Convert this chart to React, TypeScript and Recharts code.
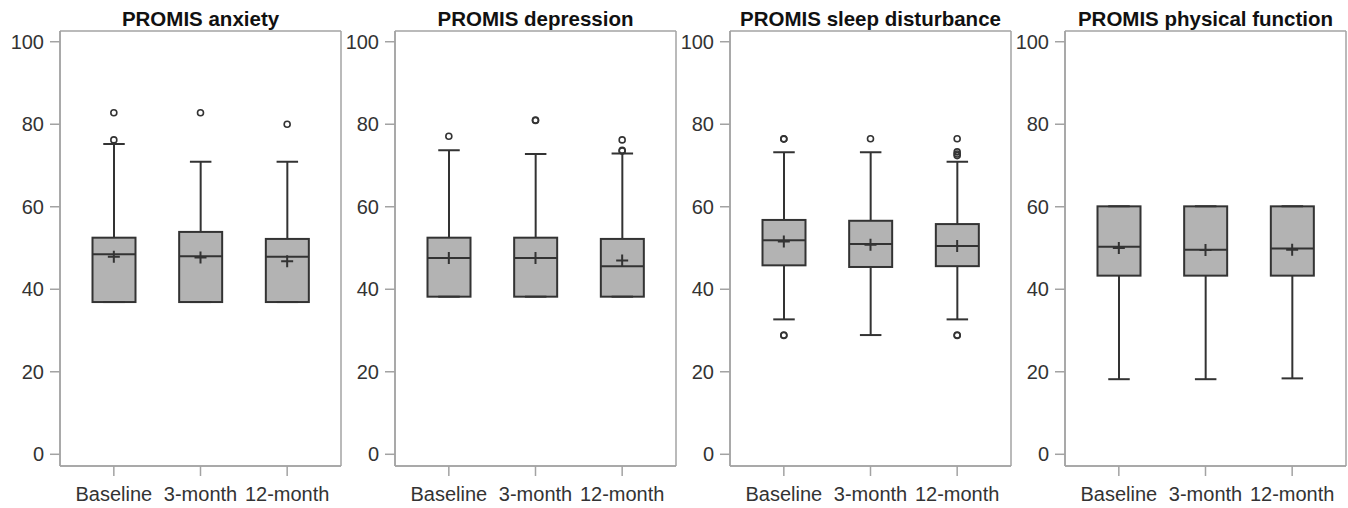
import React from "react";
import { ComposedChart, Bar, Scatter, XAxis, YAxis, CartesianGrid } from "recharts";

const categories = ["Baseline", "3-month", "12-month"];
const titles = [
  "PROMIS anxiety",
  "PROMIS depression",
  "PROMIS sleep disturbance",
  "PROMIS physical function",
];
const yTicks = [0, 20, 40, 60, 80, 100];

// anxiety
const anxietyLow = [36.9, 36.9, 36.9];
const anxietyQ1 = [36.9, 36.9, 36.9];
const anxietyMedian = [48.5, 48.0, 47.9];
const anxietyQ3 = [52.5, 53.9, 52.2];
const anxietyHigh = [75.2, 70.9, 70.9];
const anxietyMean = [47.9, 47.7, 46.8];
const anxietyOutliers = [[82.8, 76.2], [82.8], [80.0]];

// depression
const depressionLow = [38.2, 38.2, 38.2];
const depressionQ1 = [38.2, 38.2, 38.2];
const depressionMedian = [47.6, 47.6, 45.6];
const depressionQ3 = [52.5, 52.5, 52.2];
const depressionHigh = [73.7, 72.8, 72.9];
const depressionMean = [47.6, 47.6, 47.0];
const depressionOutliers = [[77.1], [81.0, 80.9], [76.2, 73.7, 73.5]];

// sleep disturbance
const sleepLow = [32.7, 28.9, 32.7];
const sleepQ1 = [45.8, 45.4, 45.6];
const sleepMedian = [51.9, 51.0, 50.5];
const sleepQ3 = [56.8, 56.6, 55.8];
const sleepHigh = [73.2, 73.2, 70.9];
const sleepMean = [51.6, 50.8, 50.5];
const sleepOutliers = [[76.5, 76.4, 28.9, 28.8], [76.5], [76.5, 73.3, 72.8, 72.4, 28.9, 28.8]];

// physical function
const physicalLow = [18.2, 18.2, 18.4];
const physicalQ1 = [43.3, 43.3, 43.3];
const physicalMedian = [50.3, 49.6, 49.9];
const physicalQ3 = [60.1, 60.1, 60.1];
const physicalHigh = [60.1, 60.1, 60.1];
const physicalMean = [50.0, 49.5, 49.6];
const physicalOutliers: number[][] = [[], [], []];

const OUTLIER_KEYS = ["o0", "o1", "o2", "o3", "o4", "o5"];

function buildRows(
  low: number[],
  q1: number[],
  median: number[],
  q3: number[],
  high: number[],
  mean: number[],
  outliers: number[][]
) {
  return categories.map((name, i) => {
    const row: any = {
      name,
      low: low[i],
      q1: q1[i],
      median: median[i],
      q3: q3[i],
      high: high[i],
      mean: mean[i],
    };
    OUTLIER_KEYS.forEach((k, j) => {
      row[k] = outliers[i][j] ?? null;
    });
    return row;
  });
}

const panels = [
  buildRows(anxietyLow, anxietyQ1, anxietyMedian, anxietyQ3, anxietyHigh, anxietyMean, anxietyOutliers),
  buildRows(depressionLow, depressionQ1, depressionMedian, depressionQ3, depressionHigh, depressionMean, depressionOutliers),
  buildRows(sleepLow, sleepQ1, sleepMedian, sleepQ3, sleepHigh, sleepMean, sleepOutliers),
  buildRows(physicalLow, physicalQ1, physicalMedian, physicalQ3, physicalHigh, physicalMean, physicalOutliers),
];

const FONT = '"Liberation Sans", Arial, sans-serif';
const FRAME = "#a3a3a3";
const INK = "#333333";
const BOX_FILL = "#b3b3b3";

// the bar spans low..high, everything else is placed along it
function BoxShape(props: any) {
  const { x, y, width, height, payload } = props;
  if (x == null || y == null) return <g />;
  const span = payload.high - payload.low;
  const py = (v: number) => y + ((payload.high - v) / span) * height;
  const cx = x + width / 2;
  const cap = width * 0.25;
  return (
    <g>
      <line x1={cx} x2={cx} y1={py(payload.high)} y2={py(payload.q3)} stroke={INK} strokeWidth={2} />
      <line x1={cx} x2={cx} y1={py(payload.q1)} y2={py(payload.low)} stroke={INK} strokeWidth={2} />
      <rect
        x={x}
        y={py(payload.q3)}
        width={width}
        height={py(payload.q1) - py(payload.q3)}
        fill={BOX_FILL}
        stroke={INK}
        strokeWidth={2}
      />
      <line x1={x} x2={x + width} y1={py(payload.median)} y2={py(payload.median)} stroke={INK} strokeWidth={2} />
      <line x1={cx - cap} x2={cx + cap} y1={py(payload.high)} y2={py(payload.high)} stroke={INK} strokeWidth={2} />
      <line x1={cx - cap} x2={cx + cap} y1={py(payload.low)} y2={py(payload.low)} stroke={INK} strokeWidth={2} />
    </g>
  );
}

function MeanShape(props: any) {
  const { cx, cy } = props;
  if (cx == null || cy == null || isNaN(cy)) return <g />;
  const s = 6;
  return (
    <path
      d={`M${cx - s},${cy}H${cx + s}M${cx},${cy - s}V${cy + s}`}
      stroke={INK}
      strokeWidth={2}
      fill="none"
    />
  );
}

function makeOutlierShape(key: string) {
  return (props: any) => {
    const { cx, cy, payload } = props;
    if (payload == null || payload[key] == null || cy == null || isNaN(cy)) return <g />;
    return <circle cx={cx} cy={cy} r={3} fill="none" stroke={INK} strokeWidth={1.6} />;
  };
}

// frame lines on the plot area's edges
const frameRows = ({ offset }: any) => [offset.top, offset.top + offset.height];
const frameCols = ({ offset }: any) => [offset.left, offset.left + offset.width];

function Panel({ data, title, left }: { data: any[]; title: string; left: number }) {
  return (
    <div style={{ position: "absolute", left, top: 0, width: 342, height: 508 }}>
      <div
        style={{
          position: "absolute",
          left: 60,
          width: 281,
          top: 7,
          textAlign: "center",
          fontFamily: FONT,
          fontWeight: "bold",
          fontSize: 20.5,
          lineHeight: "24px",
          color: "#111",
          whiteSpace: "nowrap",
        }}
      >
        {title}
      </div>
      <ComposedChart
        width={342}
        height={508}
        data={data}
        margin={{ top: 31, right: 1, bottom: 0, left: 0 }}
        style={{ fontFamily: FONT }}
      >
        <CartesianGrid
          stroke={FRAME}
          strokeWidth={1.5}
          horizontalCoordinatesGenerator={frameRows}
          verticalCoordinatesGenerator={frameCols}
        />
        <XAxis
          dataKey="name"
          type="category"
          height={42}
          padding={{ left: 10.5, right: 10.5 }}
          tick={{ fill: INK, fontSize: 20 }}
          tickSize={10}
          tickMargin={11}
          tickLine={{ stroke: FRAME, strokeWidth: 1.5 }}
          axisLine={{ stroke: FRAME, strokeWidth: 1.5 }}
          interval={0}
        />
        <YAxis
          type="number"
          domain={[-2.84, 102.6]}
          ticks={yTicks}
          allowDataOverflow
          width={60}
          tick={{ fill: INK, fontSize: 20 }}
          tickSize={10}
          tickMargin={6}
          tickLine={{ stroke: FRAME, strokeWidth: 1.5 }}
          axisLine={{ stroke: FRAME, strokeWidth: 1.5 }}
          interval={0}
        />
        <Bar
          dataKey={(d: any) => [d.low, d.high]}
          barSize={43}
          shape={BoxShape}
          isAnimationActive={false}
        />
        <Scatter dataKey="mean" shape={MeanShape} isAnimationActive={false} />
        {OUTLIER_KEYS.map((k) => (
          <Scatter key={k} dataKey={k} shape={makeOutlierShape(k)} isAnimationActive={false} />
        ))}
      </ComposedChart>
    </div>
  );
}

export default function App() {
  return (
    <div
      style={{
        position: "absolute",
        left: 0,
        top: 0,
        width: 1348,
        height: 508,
        background: "#fff",
        overflow: "hidden",
      }}
    >
      {panels.map((data, i) => (
        <Panel key={i} data={data} title={titles[i]} left={i * 335} />
      ))}
    </div>
  );
}
